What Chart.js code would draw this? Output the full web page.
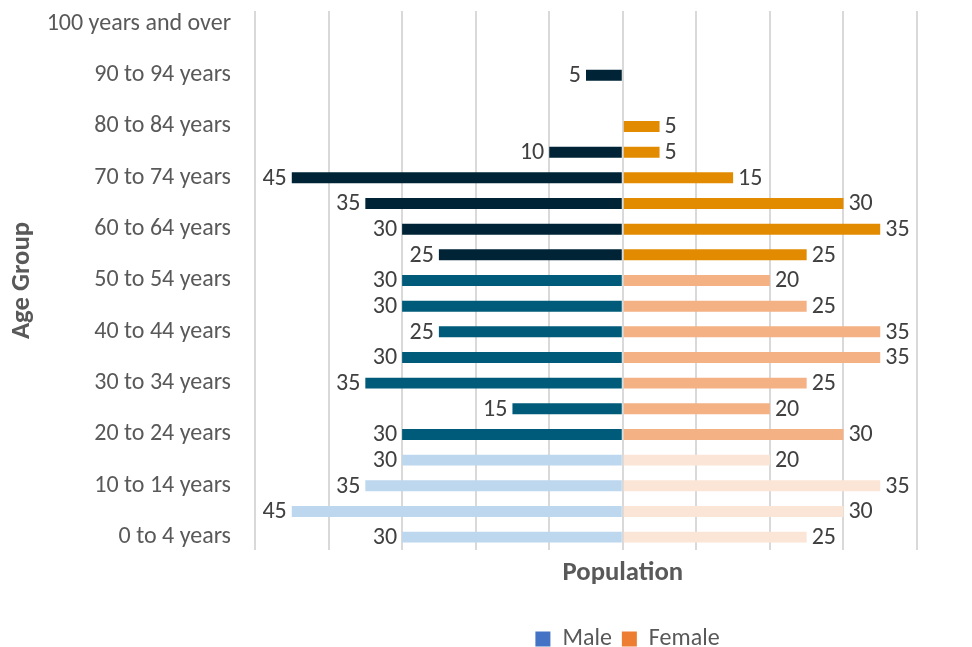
<!DOCTYPE html>
<html>
<head>
<meta charset="utf-8">
<script src="https://cdn.jsdelivr.net/npm/chart.js@4"></script>
<style>
html,body{margin:0;padding:0;background:#fff;}
#wrap{width:972px;height:647px;position:relative;}
</style>
</head>
<body>
<div id="wrap"><canvas id="c"></canvas></div>
<script>
const ageGroups = ["100 years and over","95 to 99 years","90 to 94 years","85 to 89 years","80 to 84 years","75 to 79 years","70 to 74 years","65 to 69 years","60 to 64 years","55 to 59 years","50 to 54 years","45 to 49 years","40 to 44 years","35 to 39 years","30 to 34 years","25 to 29 years","20 to 24 years","15 to 19 years","10 to 14 years","5 to 9 years","0 to 4 years"];
const maleValues   = [0,0,5,0,0,10,45,35,30,25,30,30,25,30,35,15,30,30,35,45,30];
const femaleValues = [0,0,0,0,5,5,15,30,35,25,20,25,35,35,25,20,30,20,35,30,25];
const ageBand = ["old","old","old","old","old","old","old","old","old","old","mid","mid","mid","mid","mid","mid","mid","young","young","young","young"];
const maleColors = {old:"#002436", mid:"#005B7A", young:"#BDD7EE"};
const femaleColors = {old:"#E38B00", mid:"#F4B183", young:"#FBE5D6"};
const legendColors = {Male:"#4472C4", Female:"#ED7D31"};
const xTitle = "Population";

const FONT = "Carlito, 'Open Sans', 'Liberation Sans', sans-serif";

const labelPlugin = {
  id:"barLabels",
  afterLayout(chart){
    if(chart.legend){ chart.legend.left += 166; chart.legend.right += 166; }
  },
  afterDatasetsDraw(chart){
    const ctx = chart.ctx;
    ctx.save();
    ctx.font = "24px " + FONT;
    ctx.fillStyle = "#404040";
    ctx.textBaseline = "middle";
    chart.data.datasets.forEach((ds,di)=>{
      const meta = chart.getDatasetMeta(di);
      meta.data.forEach((el,i)=>{
        const v = ds.data[i];
        if(!v) return;
        if(v<0){ ctx.textAlign="right"; ctx.fillText(String(-v), el.x-5, el.y+1); }
        else { ctx.textAlign="left"; ctx.fillText(String(v), el.x+5, el.y+1); }
      });
    });
    // x axis title centred on the zero line
    const xs = chart.scales.x;
    ctx.font = "bold 26.7px " + FONT;
    ctx.fillStyle = "#595959";
    ctx.textAlign = "center";
    ctx.fillText(xTitle, xs.getPixelForValue(0), chart.chartArea.bottom + 23);
    ctx.restore();
  }
};

new Chart(document.getElementById("c"),{
  type:"bar",
  data:{
    labels:ageGroups,
    datasets:[
      {label:"Male", data:maleValues.map(v=>-v), backgroundColor:ageBand.map(b=>maleColors[b]), barPercentage:0.95, categoryPercentage:0.45},
      {label:"Female", data:femaleValues, backgroundColor:ageBand.map(b=>femaleColors[b]), barPercentage:0.95, categoryPercentage:0.45}
    ]
  },
  options:{
    indexAxis:"y",
    responsive:true,
    maintainAspectRatio:false,
    animation:false,
    layout:{padding:{top:11,right:55,bottom:-14,left:6}},
    plugins:{
      legend:{
        position:"bottom",
        labels:{
          font:{family:FONT,size:24},
          color:"#595959",
          boxWidth:15, boxHeight:15, padding:10,
          generateLabels(chart){
            return chart.data.datasets.map((ds,i)=>({text:ds.label, fillStyle:legendColors[ds.label], strokeStyle:legendColors[ds.label], lineWidth:0, datasetIndex:i, fontColor:"#595959"}));
          }
        }
      },
      tooltip:{enabled:false}
    },
    scales:{
      x:{
        stacked:true, min:-50, max:40,
        ticks:{display:false, stepSize:10},
        grid:{color:"#D9D9D9", lineWidth:2, drawTicks:false},
        border:{display:false},
        title:{display:true, text:xTitle, font:{family:FONT,size:26.7,weight:"bold"}, color:"rgba(0,0,0,0)", padding:{top:7,bottom:28}}
      },
      y:{
        stacked:true,
        afterFit(s){ s.width = 249; },
        grid:{display:true, drawOnChartArea:false, drawTicks:true, tickLength:24, color:"rgba(0,0,0,0)"},
        border:{display:false},
        ticks:{autoSkip:false, padding:0, font:{family:FONT,size:24, lineHeight:0.75}, color:"#595959",
          callback(v,i){ return i%2===0 ? ageGroups[i] : ""; }},
        title:{display:true, text:"Age Group", font:{family:FONT,size:26.7,weight:"bold"}, color:"#595959", padding:{top:0,bottom:0}}
      }
    }
  },
  plugins:[labelPlugin]
});
</script>
</body>
</html>
